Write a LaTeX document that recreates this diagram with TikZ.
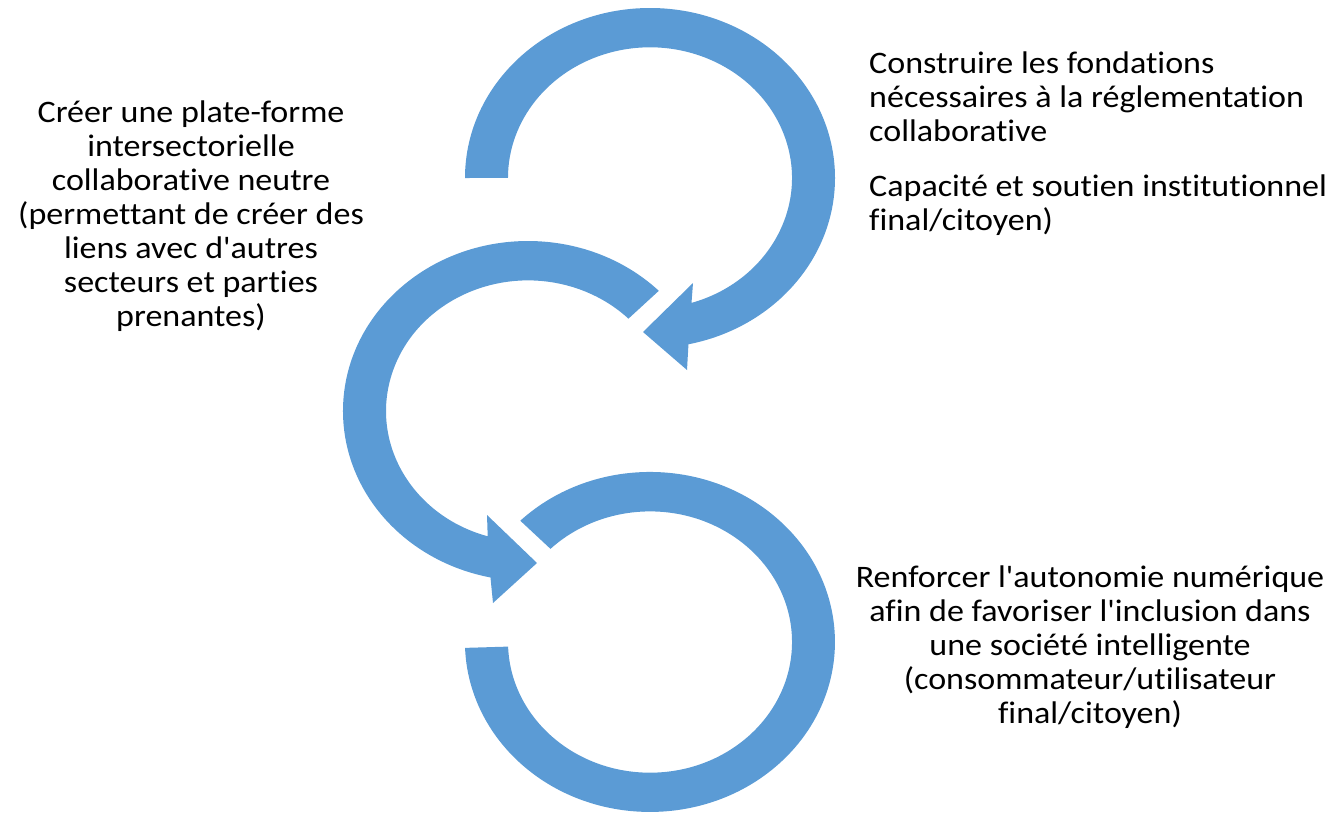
\documentclass[tikz,border=0pt]{standalone}
\usepackage{fontspec}
\setmainfont{Carlito}[FakeStretch=1.087, Ligatures={TeXOff,NoCommon}]
\definecolor{arrowblue}{HTML}{5B9BD5}
\begin{document}
\begin{tikzpicture}[x=1pt,y=1pt]
\tikzset{
  arrowband/.style={fill=arrowblue, draw=none},
  txt/.style={inner sep=0pt, anchor=base, text=black, font=\fontsize{31.3}{34}\selectfont}
}
\useasboundingbox (0,0) rectangle (1333,-814);

% top circular arrow
\fill[arrowband] (465,-178) arc[start angle=180, end angle=-78, x radius=185, y radius=170]
  -- (687,-370) -- (643,-332) -- (693,-283) -- (691.5,-302.9)
  arc[start angle=-73, end angle=180, x radius=142, y radius=130.64] -- cycle;

% middle circular arrow
\fill[arrowband] (658.8,-290.8) arc[start angle=45, end angle=258.3, x radius=185, y radius=170]
  -- (493,-603) -- (537,-563) -- (487,-515) -- (487.7,-536.3)
  arc[start angle=253.5, end angle=45, x radius=142, y radius=130.64] -- cycle;

% bottom ring
\fill[arrowband] (520.3,-520.7) arc[start angle=134.5, end angle=-178, x radius=185, y radius=170]
  -- (508.1,-646.6)
  arc[start angle=-178, end angle=134.5, x radius=142, y radius=130.64] -- cycle;

\node[txt] (lefttext) at (191,-122) {\begin{tabular}[t]{@{}c@{}}Créer une plate-forme\\intersectorielle\\collaborative neutre\\(permettant de créer des\\liens avec d'autres\\secteurs et parties\\prenantes)\end{tabular}};

\node[txt, anchor=base west] (toptext) at (869,-73) {\begin{tabular}[t]{@{}l@{}}Construire les fondations\\nécessaires à la réglementation\\collaborative\\[21pt]Capacité et soutien institutionnel\\final/citoyen)\end{tabular}};

\node[txt] (bottomtext) at (1090,-587) {\begin{tabular}[t]{@{}c@{}}Renforcer l'autonomie numérique\\afin de favoriser l'inclusion dans\\une société intelligente\\(consommateur/utilisateur\\final/citoyen)\end{tabular}};
\end{tikzpicture}
\end{document}
